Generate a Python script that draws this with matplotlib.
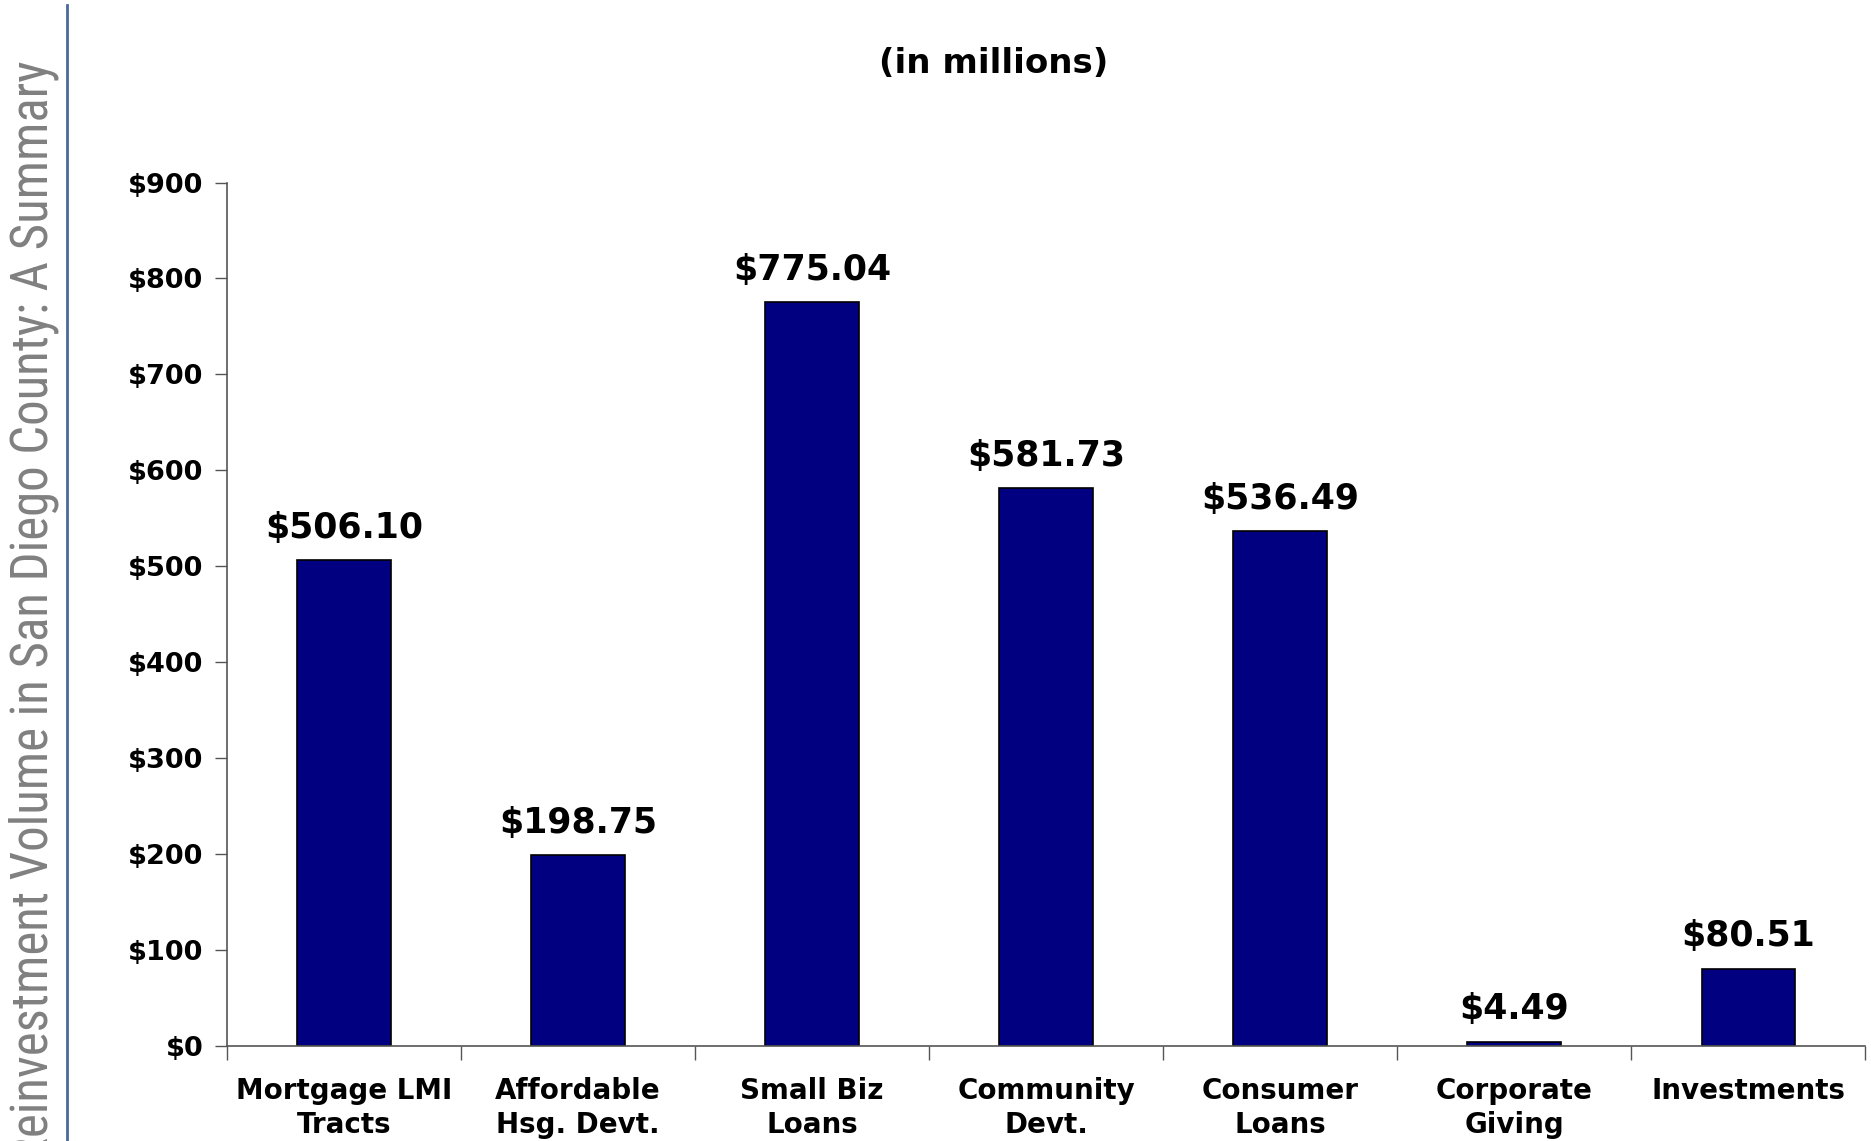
import matplotlib.pyplot as plt
import numpy as np

categories = ["Mortgage LMI\nTracts", "Affordable\nHsg. Devt.", "Small Biz\nLoans", "Community\nDevt.",
              "Consumer\nLoans", "Corporate\nGiving", "Investments"]
volumes = [506.10, 198.75, 775.04, 581.73, 536.49, 4.49, 80.51]
y_ticks = [0, 100, 200, 300, 400, 500, 600, 700, 800, 900]

plt.rcParams["font.family"] = ["DejaVu Sans"]

fig = plt.figure(figsize=(18.71, 11.41), dpi=100)
ax = fig.add_axes([0.1212, 0.0833, 0.8758, 0.7567])

x = np.arange(len(categories))
bars = ax.bar(x, volumes, width=0.40, color="#000080", edgecolor="black", linewidth=1.2)
for bar, value in zip(bars, volumes):
    ax.annotate(f"${value:,.2f}", (bar.get_x() + bar.get_width() / 2, value),
                xytext=(0, 11), textcoords="offset points", ha="center", va="bottom",
                fontsize=25, fontweight="bold")

ax.set_xlim(-0.5, len(categories) - 0.5)
ax.set_ylim(0, 900)
ax.set_yticks(y_ticks)
ax.set_yticklabels([f"${v}" for v in y_ticks], fontsize=19.5, fontweight="bold")
ax.tick_params(axis="y", length=9, width=1, color="#555555", pad=8)

# category names sit between the boundary ticks
ax.set_xticks(x)
ax.set_xticklabels(categories, fontsize=20, fontweight="bold", linespacing=1.28)
ax.tick_params(axis="x", which="major", length=0, pad=22)
ax.set_xticks(np.arange(-0.5, len(categories)), minor=True)
ax.tick_params(axis="x", which="minor", length=10, width=1, color="#555555")

for side in ("top", "right"):
    ax.spines[side].set_visible(False)
for side in ("left", "bottom"):
    ax.spines[side].set_color("#555555")
    ax.spines[side].set_linewidth(1.2)

fig.text(0.531, 0.944, "(in millions)", ha="center", va="center", fontsize=24.5, fontweight="bold")

# slide heading runs up the left margin, its first letter runs off the bottom edge
fig.text(0.0178, 1 - 60 / 1141, "Reinvestment Volume in San Diego County: A Summary", rotation=90,
         ha="center", va="top", fontsize=36.6, color="#808080",
         family=["Roboto Condensed", "DejaVu Sans"])
fig.add_artist(plt.Line2D([0.0358, 0.0358], [0.0, 0.996], transform=fig.transFigure,
                          color="#4a6a9c", linewidth=2))

fig.savefig("out.png", dpi=100)
